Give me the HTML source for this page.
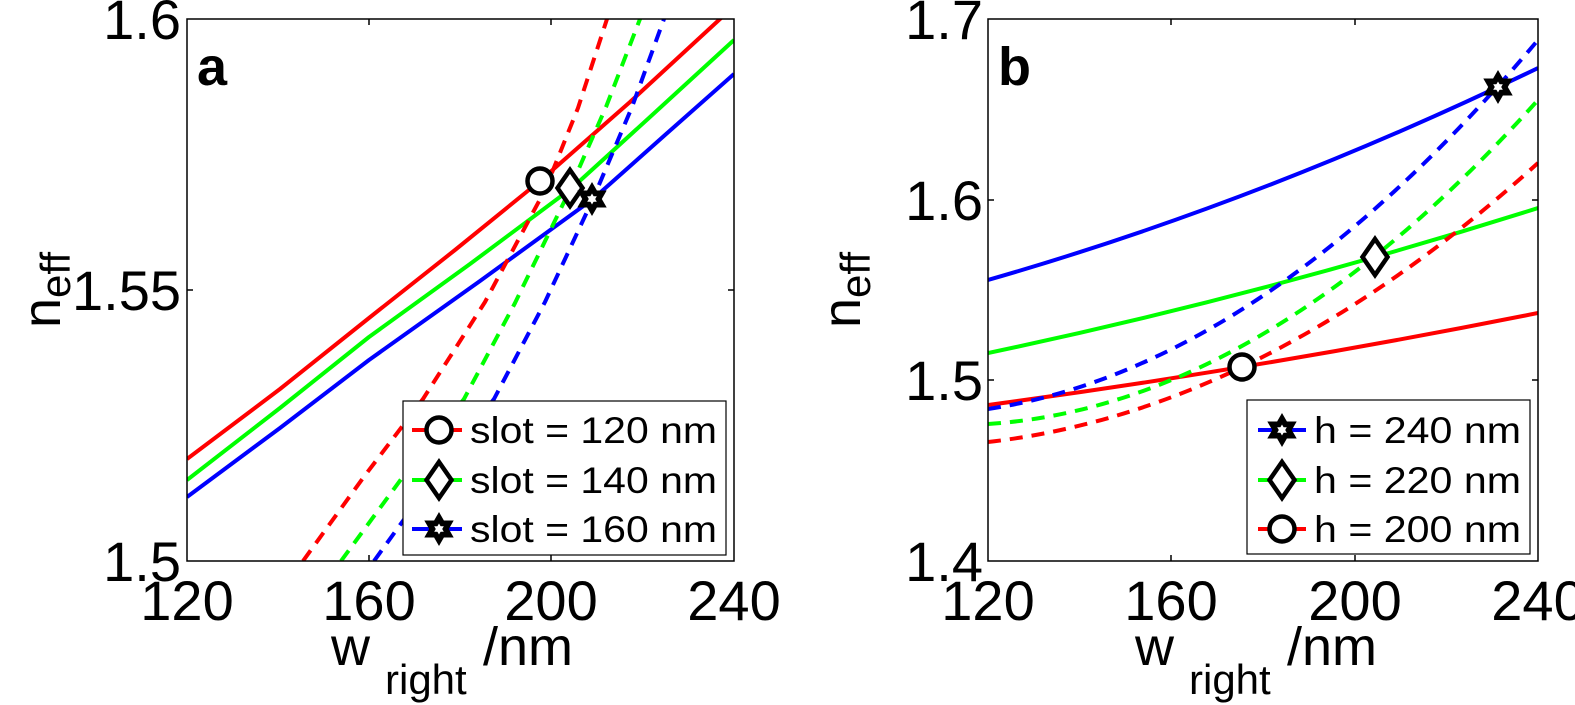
<!DOCTYPE html>
<html><head><meta charset="utf-8"><style>
body{margin:0;background:#fff}
svg{display:block}
text{font-family:"Liberation Sans",Arial,sans-serif;fill:#000}
</style></head><body>
<svg width="1575" height="705" viewBox="0 0 1575 705">
<defs>
<g id="star"><polygon points="0,-17 14.7,8.5 -14.7,8.5" fill="#000"/><polygon points="0,17 14.7,-8.5 -14.7,-8.5" fill="#000"/><polygon points="0,-5.5 4.8,2.75 -4.8,2.75" fill="#fff"/><polygon points="0,5.5 4.8,-2.75 -4.8,-2.75" fill="#fff"/></g>
<g id="circ"><circle r="12.5" fill="#fff" stroke="#000" stroke-width="4.5"/></g>
<g id="diam"><polygon points="0,-18 12.5,0 0,18 -12.5,0" fill="#fff" stroke="#000" stroke-width="4.5"/></g>
<clipPath id="ca"><rect x="187" y="19" width="547" height="542"/></clipPath>
<clipPath id="cb"><rect x="988" y="19" width="550" height="542"/></clipPath>
</defs>
<!-- Panel a -->
<g clip-path="url(#ca)" fill="none" stroke-width="4" stroke-linejoin="round">
<polyline stroke="#f00" points="187,459 280,389 369,318 455,250 540,181 630,102 720,19 740,1"/>
<polyline stroke="#0f0" points="187,480 280,408 369,337 470,264 572,188 650,117 734,40"/>
<polyline stroke="#00f" points="187,497 280,428 369,360 480,281 593,199 665,135 734,74"/>
<polyline stroke="#f00" stroke-dasharray="13,9" points="303,561 363,478 423,399 485,302 545,190 578,108 607,19 612,0"/>
<polyline stroke="#0f0" stroke-dasharray="13,9" points="341,561 402,478 464,399 515,303 565,200 606,107 640,19 645,0"/>
<polyline stroke="#00f" stroke-dasharray="13,9" points="374,561 434,478 494,399 545,302 593,199 632,107 664,19 669,0"/>
</g>
<rect x="187" y="19" width="547" height="542" fill="none" stroke="#000" stroke-width="1.5"/>
<g stroke="#000" stroke-width="1.5">
<line x1="369" y1="561" x2="369" y2="555"/><line x1="551" y1="561" x2="551" y2="555"/>
<line x1="369" y1="19" x2="369" y2="25"/><line x1="551" y1="19" x2="551" y2="25"/>
<line x1="187" y1="290" x2="193" y2="290"/><line x1="734" y1="290" x2="728" y2="290"/>
</g>
<use href="#circ" x="540" y="181"/><use href="#diam" x="570" y="188"/><use href="#star" x="592" y="199"/>
<text x="197" y="85" font-size="54" font-weight="bold">a</text>
<rect x="403" y="401" width="323" height="154" fill="#fff" stroke="#000" stroke-width="1.2"/>
<line x1="412" y1="430" x2="462" y2="430" stroke="#f00" stroke-width="4"/>
<line x1="412" y1="480" x2="462" y2="480" stroke="#0f0" stroke-width="4"/>
<line x1="412" y1="529" x2="462" y2="529" stroke="#00f" stroke-width="4"/>
<use href="#circ" x="439" y="430"/><use href="#diam" x="439" y="480"/><use href="#star" x="439" y="529"/>
<text x="470" y="443" font-size="37" textLength="247" lengthAdjust="spacingAndGlyphs">slot = 120 nm</text>
<text x="470" y="493" font-size="37" textLength="247" lengthAdjust="spacingAndGlyphs">slot = 140 nm</text>
<text x="470" y="542" font-size="37" textLength="247" lengthAdjust="spacingAndGlyphs">slot = 160 nm</text>
<g font-size="56" text-anchor="end">
<text x="181" y="39">1.6</text><text x="181" y="310">1.55</text><text x="181" y="581">1.5</text>
</g>
<g font-size="56" text-anchor="middle">
<text x="187" y="620">120</text><text x="369" y="620">160</text><text x="551" y="620">200</text><text x="734" y="620">240</text>
</g>
<text x="331" y="665" font-size="54">w</text><text x="385" y="694" font-size="42">right</text><text x="483" y="665" font-size="54">/nm</text>
<text transform="translate(60,290) rotate(-90)" font-size="54" text-anchor="middle">n<tspan font-size="42" dy="10">eff</tspan></text>
<!-- Panel b -->
<g clip-path="url(#cb)" fill="none" stroke-width="4" stroke-linejoin="round">
<path stroke="#00f" d="M988,280 Q1263,201 1538,68"/>
<path stroke="#0f0" d="M988,353 Q1263,295 1538,208"/>
<path stroke="#f00" d="M988,405 Q1263,368 1538,313"/>
<path stroke="#00f" stroke-dasharray="13,9" d="M988,409 Q1263,367 1538,40"/>
<path stroke="#0f0" stroke-dasharray="13,9" d="M988,424 Q1263,406 1538,100"/>
<path stroke="#f00" stroke-dasharray="13,9" d="M988,442 Q1263,411 1538,163"/>
</g>
<rect x="988" y="19" width="550" height="542" fill="none" stroke="#000" stroke-width="1.5"/>
<g stroke="#000" stroke-width="1.5">
<line x1="1171" y1="561" x2="1171" y2="555"/><line x1="1355" y1="561" x2="1355" y2="555"/>
<line x1="1171" y1="19" x2="1171" y2="25"/><line x1="1355" y1="19" x2="1355" y2="25"/>
<line x1="988" y1="200" x2="994" y2="200"/><line x1="988" y1="380" x2="994" y2="380"/>
<line x1="1538" y1="200" x2="1532" y2="200"/><line x1="1538" y1="380" x2="1532" y2="380"/>
</g>
<use href="#star" x="1498" y="87"/><use href="#diam" x="1375" y="257"/><use href="#circ" x="1242" y="367"/>
<text x="998" y="85" font-size="54" font-weight="bold">b</text>
<rect x="1247" y="400" width="283" height="154" fill="#fff" stroke="#000" stroke-width="1.2"/>
<line x1="1258" y1="430" x2="1306" y2="430" stroke="#00f" stroke-width="4"/>
<line x1="1258" y1="480" x2="1306" y2="480" stroke="#0f0" stroke-width="4"/>
<line x1="1258" y1="529" x2="1306" y2="529" stroke="#f00" stroke-width="4"/>
<use href="#star" x="1282" y="430"/><use href="#diam" x="1282" y="480"/><use href="#circ" x="1282" y="529"/>
<text x="1314" y="443" font-size="37" textLength="207" lengthAdjust="spacingAndGlyphs">h = 240 nm</text>
<text x="1314" y="493" font-size="37" textLength="207" lengthAdjust="spacingAndGlyphs">h = 220 nm</text>
<text x="1314" y="542" font-size="37" textLength="207" lengthAdjust="spacingAndGlyphs">h = 200 nm</text>
<g font-size="56" text-anchor="end">
<text x="983" y="39">1.7</text><text x="983" y="220">1.6</text><text x="983" y="400">1.5</text><text x="983" y="581">1.4</text>
</g>
<g font-size="56" text-anchor="middle">
<text x="988" y="620">120</text><text x="1171" y="620">160</text><text x="1355" y="620">200</text><text x="1538" y="620">240</text>
</g>
<text x="1135" y="665" font-size="54">w</text><text x="1189" y="694" font-size="42">right</text><text x="1287" y="665" font-size="54">/nm</text>
<text transform="translate(860,290) rotate(-90)" font-size="54" text-anchor="middle">n<tspan font-size="42" dy="10">eff</tspan></text>
</svg>
</body></html>
